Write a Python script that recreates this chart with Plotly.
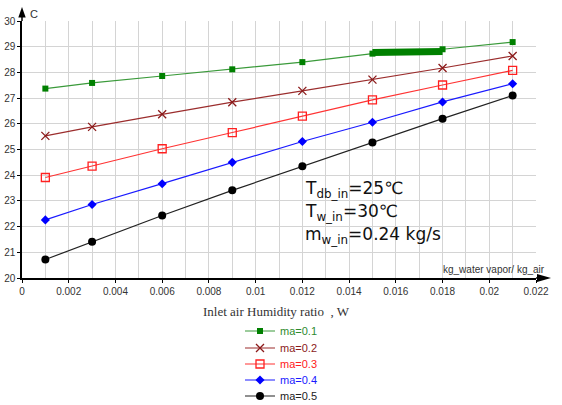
import plotly.graph_objects as go

# ---- data ----
humidity = [0.001, 0.003, 0.006, 0.009, 0.012, 0.015, 0.018, 0.021]
t_ma01 = [27.37, 27.59, 27.86, 28.12, 28.40, 28.73, 28.90, 29.18]
t_ma02 = [25.53, 25.88, 26.37, 26.84, 27.28, 27.72, 28.17, 28.64]
t_ma03 = [23.91, 24.35, 25.03, 25.66, 26.30, 26.93, 27.51, 28.08]
t_ma04 = [22.26, 22.86, 23.67, 24.50, 25.31, 26.06, 26.85, 27.56]
t_ma05 = [20.72, 21.41, 22.43, 23.41, 24.35, 25.27, 26.20, 27.10]
thick_x = [0.015, 0.018]
thick_y = [28.77, 28.81]
series_names = ["ma=0.1", "ma=0.2", "ma=0.3", "ma=0.4", "ma=0.5"]
x_ticks = [0, 0.002, 0.004, 0.006, 0.008, 0.01, 0.012, 0.014, 0.016, 0.018, 0.02, 0.022]
x_ticktext = ["0", "0.002", "0.004", "0.006", "0.008", "0.01", "0.012", "0.014",
              "0.016", "0.018", "0.02", "0.022"]
y_ticks = [20, 21, 22, 23, 24, 25, 26, 27, 28, 29, 30]

FONT = "Arial, Liberation Sans, sans-serif"
L, R, T, B = 22, 26, 21, 127
W, H = 562, 405
PW, PH = W - L - R, H - T - B


def px_x(p):
    return (p - L) / PW


def px_y(p):
    return (H - B - p) / PH


styles = [
    dict(line="#3a9a3a", marker=dict(symbol="square", size=6, color="#008000"), text="#2e8b2e"),
    dict(line="#9b2d2d", marker=dict(symbol="x-thin-open", size=8, color="#8b1a1a",
                                      line=dict(width=1.3, color="#8b1a1a")), text="#8b1a1a"),
    dict(line="#ff3333", marker=dict(symbol="square-open", size=8, color="#ff2020",
                                      line=dict(width=1.3, color="#ff2020")), text="#ff2020"),
    dict(line="#1a1aff", marker=dict(symbol="diamond", size=7, color="#0000ff"), text="#1a1aff"),
    dict(line="#222222", marker=dict(symbol="circle", size=8, color="#000000"), text="#222222"),
]
legend_ids = ["legend", "legend2", "legend3", "legend4", "legend5"]
legend_rows_px = [331, 348, 364, 380, 396]

fig = go.Figure()
for name, ys, st, lid in zip(series_names, [t_ma01, t_ma02, t_ma03, t_ma04, t_ma05],
                             styles, legend_ids):
    fig.add_trace(go.Scatter(
        x=humidity, y=ys, mode="lines+markers",
        name=f"<span style='color:{st['text']}'>{name}</span>",
        line=dict(color=st["line"], width=1.2),
        marker=st["marker"], legend=lid,
    ))

fig.add_trace(go.Scatter(x=thick_x, y=thick_y, mode="lines", showlegend=False,
                         line=dict(color="#008000", width=7), hoverinfo="skip"))

legend_common = dict(xanchor="left", yanchor="middle",
                     font=dict(family=FONT, size=11), bgcolor="rgba(0,0,0,0)",
                     borderwidth=0)
layout_legends = {}
for lid, ypx in zip(legend_ids, legend_rows_px):
    layout_legends[lid] = dict(x=px_x(240), y=px_y(ypx), **legend_common)

fig.update_layout(
    width=W, height=H,
    margin=dict(l=L, r=R, t=T, b=B, autoexpand=False),
    paper_bgcolor="white", plot_bgcolor="white",
    font=dict(family=FONT, size=10, color="#333333"),
    showlegend=True,
    xaxis=dict(range=[0, 0.022], tickvals=x_ticks, ticktext=x_ticktext,
               showgrid=True, gridcolor="#d4d4d4", gridwidth=1,
               minor=dict(dtick=0.001, showgrid=True, gridcolor="#d4d4d4", gridwidth=1),
               showline=True, linecolor="black", linewidth=1.5,
               ticks="outside", ticklen=3, tickcolor="black", tickwidth=1,
               zeroline=False, automargin=False,
               tickfont=dict(size=10, color="#333333")),
    yaxis=dict(range=[20, 30], tickvals=y_ticks,
               showgrid=True, gridcolor="#d4d4d4", gridwidth=1,
               showline=True, linecolor="black", linewidth=1.5,
               ticks="outside", ticklen=3, tickcolor="black", tickwidth=1,
               zeroline=False, automargin=False,
               tickfont=dict(size=10, color="#333333")),
    **layout_legends,
)

# axis arrows (paper coordinates)
fig.add_shape(type="line", xref="paper", yref="paper", x0=0, x1=0, y0=1, y1=px_y(14),
              line=dict(color="black", width=1.5))
fig.add_shape(type="path", xref="paper", yref="paper",
              path=f"M {px_x(22)},{px_y(7)} L {px_x(18.3)},{px_y(17.5)} "
                   f"L {px_x(25.7)},{px_y(17.5)} Z",
              fillcolor="black", line=dict(width=0))
fig.add_shape(type="line", xref="paper", yref="paper", x0=1, x1=px_x(540), y0=0, y1=0,
              line=dict(color="black", width=1.5))
fig.add_shape(type="path", xref="paper", yref="paper",
              path=f"M {px_x(551)},{px_y(278)} L {px_x(537)},{px_y(274)} "
                   f"L {px_x(537)},{px_y(282)} Z",
              fillcolor="black", line=dict(width=0))

# axis unit labels
fig.add_annotation(xref="paper", yref="paper", x=px_x(28), y=px_y(14), xanchor="left",
                   yanchor="middle", text="C", showarrow=False,
                   font=dict(family=FONT, size=11, color="#333333"))
fig.add_annotation(xref="paper", yref="paper", x=px_x(547), y=px_y(269), xanchor="right",
                   yanchor="middle", text="kg_water vapor/ kg_air", showarrow=False,
                   font=dict(family=FONT, size=10, color="#333333"))

# x axis title
fig.add_annotation(xref="paper", yref="paper", x=px_x(276), y=px_y(311), xanchor="center",
                   yanchor="middle", text="Inlet air Humidity ratio  , W", showarrow=False,
                   font=dict(family="Liberation Serif, Times New Roman, serif", size=13,
                             color="#333333"))

# condition text
cond = ["T<sub>db_in</sub>=25℃", "T<sub>w_in</sub>=30℃", "m<sub>w_in</sub>=0.24 kg/s"]
cond_rows_px = [189, 212, 235]
for txt, ypx in zip(cond, cond_rows_px):
    fig.add_annotation(xref="paper", yref="paper", x=px_x(303), y=px_y(ypx),
                       xanchor="left", yanchor="middle", text=txt, showarrow=False,
                       font=dict(family="DejaVu Sans, sans-serif", size=17, color="#111111"))

fig.write_html("out.html")
